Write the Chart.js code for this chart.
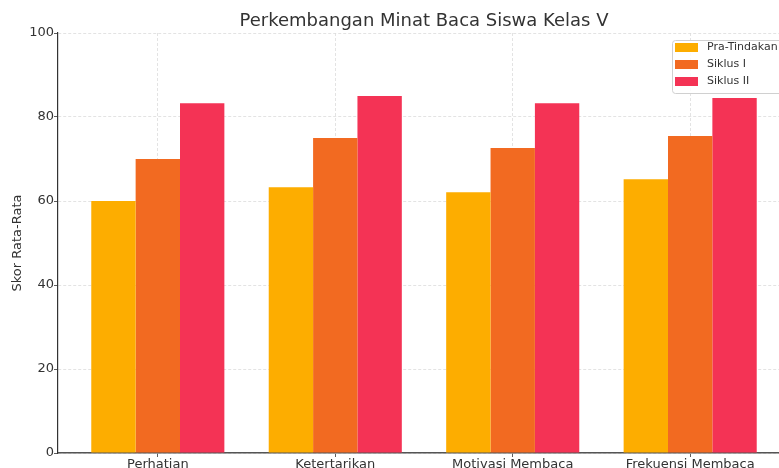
<!DOCTYPE html>
<html>
<head>
<meta charset="utf-8">
<script src="https://cdn.jsdelivr.net/npm/chart.js@4.4.0/dist/chart.umd.min.js"></script>
<style>
  html, body { margin: 0; padding: 0; background: #fff; overflow: hidden; }
  #wrap { width: 810px; height: 468px; }
</style>
</head>
<body>
<div id="wrap"><canvas id="minatChart" width="810" height="468"></canvas></div>
<script>
'use strict'

// data
const categories = ['Perhatian', 'Ketertarikan', 'Motivasi Membaca', 'Frekuensi Membaca'];
const praTindakan = [60, 63.3, 62.1, 65.2];
const siklus1 = [70, 75, 72.6, 75.5];
const siklus2 = [83.3, 85, 83.3, 84.5];
const yTicks = [0, 20, 40, 60, 80, 100];

const seriesNames = ['Pra-Tindakan', 'Siklus I', 'Siklus II'];
const seriesColors = ['#fdad00', '#f26a21', '#f43355'];
const chartTitle = 'Perkembangan Minat Baca Siswa Kelas V';

function toPoints(values) {
    return values.map((v, i) => ({ x: i, y: v }));
}

// title centred over the plot area (not the whole canvas)
const plotTitle = {
    id: 'plotTitle',
    afterDraw(chart) {
        const ctx = chart.ctx;
        const area = chart.chartArea;
        ctx.save();
        ctx.font = '18px "DejaVu Sans"';
        ctx.fillStyle = '#333';
        ctx.textAlign = 'center';
        ctx.textBaseline = 'middle';
        ctx.fillText(chartTitle, (area.left + area.right) / 2, 21);
        ctx.restore();
    }
};

// legend box drawn inside the plot, upper right
const legendBox = {
    id: 'legendBox',
    afterDraw(chart) {
        const ctx = chart.ctx;
        const x = 672, y = 40, w = 130, h = 53;
        ctx.save();
        ctx.fillStyle = 'rgba(255,255,255,0.85)';
        ctx.strokeStyle = '#d0d0d0';
        ctx.lineWidth = 1;
        ctx.beginPath();
        ctx.roundRect(x + 0.5, y + 0.5, w, h, 3);
        ctx.fill();
        ctx.stroke();
        ctx.font = '11px "DejaVu Sans"';
        ctx.textBaseline = 'middle';
        chart.data.datasets.forEach((ds, i) => {
            const cy = 47.5 + i * 17;
            ctx.fillStyle = ds.backgroundColor;
            ctx.fillRect(675, cy - 4.5, 23, 9);
            ctx.fillStyle = '#333';
            ctx.fillText(ds.label, 707, cy);
        });
        ctx.restore();
    }
};

const ctx = document.getElementById('minatChart').getContext('2d');

new Chart(ctx, {
    type: 'bar',
    data: {
        datasets: [
            { label: seriesNames[0], data: toPoints(praTindakan), backgroundColor: seriesColors[0] },
            { label: seriesNames[1], data: toPoints(siklus1), backgroundColor: seriesColors[1] },
            { label: seriesNames[2], data: toPoints(siklus2), backgroundColor: seriesColors[2] }
        ]
    },
    options: {
        responsive: false,
        animation: false,
        layout: { padding: { left: 0, right: 20, top: 33, bottom: 0 } },
        datasets: {
            bar: { categoryPercentage: 0.75, barPercentage: 1.0, borderWidth: 0 }
        },
        plugins: {
            legend: { display: false },
            tooltip: { enabled: false },
            title: { display: false }
        },
        scales: {
            x: {
                type: 'linear',
                offset: false,
                min: -0.5625,
                max: 3.5625,
                afterFit: (s) => { s.height = 15; },
                ticks: {
                    stepSize: 1,
                    includeBounds: false,
                    autoSkip: false,
                    maxRotation: 0,
                    padding: 0,
                    color: '#333',
                    font: { family: 'DejaVu Sans', size: 13 },
                    callback: (v) => Number.isInteger(v) ? categories[v] : ''
                },
                grid: {
                    offset: false,
                    color: '#dcdcdc',
                    lineWidth: 0.8,
                    tickLength: 4,
                    tickColor: '#333'
                },
                border: { display: true, color: '#555', width: 1.6, dash: [3, 2] }
            },
            y: {
                min: 0,
                max: 100,
                afterFit: (s) => { s.width = 58; },
                afterBuildTicks: (s) => { s.ticks = yTicks.map(v => ({ value: v })); },
                ticks: {
                    padding: 0,
                    color: '#333',
                    font: { family: 'DejaVu Sans', size: 13 }
                },
                title: {
                    display: true,
                    text: 'Skor Rata-Rata',
                    color: '#333',
                    font: { family: 'DejaVu Sans', size: 13 },
                    padding: { top: 10, bottom: 0 }
                },
                grid: {
                    color: '#dcdcdc',
                    lineWidth: 0.8,
                    tickLength: 4,
                    tickColor: '#333'
                },
                border: { display: true, color: '#333', width: 1.2, dash: [3, 2] }
            }
        }
    },
    plugins: [plotTitle, legendBox]
});
</script>
</body>
</html>
